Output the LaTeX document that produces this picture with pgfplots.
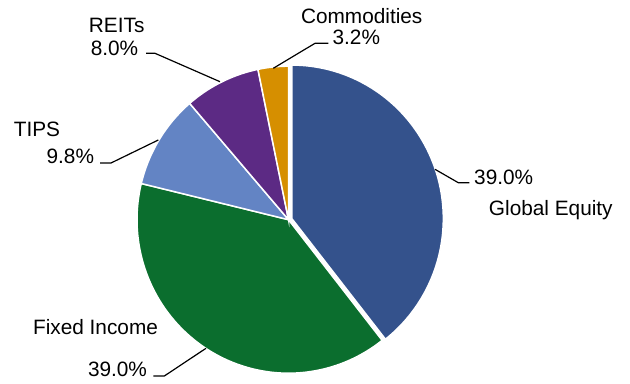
\documentclass[border=0pt]{standalone}
\usepackage{fontspec}
\setmainfont{Liberation Sans}
\usepackage{pgfplots}
\usepackage{pgfplotstable}
\pgfplotsset{compat=1.18}
\definecolor{cGE}{RGB}{52,82,140}
\definecolor{cFI}{RGB}{11,110,46}
\definecolor{cTI}{RGB}{99,132,196}
\definecolor{cRE}{RGB}{92,42,132}
\definecolor{cCO}{RGB}{214,143,0}
\pgfplotstableread{
name value
GlobalEquity 39.0
FixedIncome 39.0
TIPS 9.8
REITs 8.0
Commodities 3.2
}\alloc
\tikzset{lbl/.style={font=\fontsize{20.8bp}{24bp}\selectfont, inner sep=0pt, anchor=base}}
\begin{document}
\begin{tikzpicture}
\pgfplotstablegetelem{0}{value}\of\alloc \pgfmathsetmacro\vA{\pgfplotsretval}
\pgfplotstablegetelem{1}{value}\of\alloc \pgfmathsetmacro\vB{\pgfplotsretval}
\pgfplotstablegetelem{2}{value}\of\alloc \pgfmathsetmacro\vC{\pgfplotsretval}
\pgfplotstablegetelem{3}{value}\of\alloc \pgfmathsetmacro\vD{\pgfplotsretval}
\pgfplotstablegetelem{4}{value}\of\alloc \pgfmathsetmacro\vE{\pgfplotsretval}
\pgfmathsetmacro\tot{\vA+\vB+\vC+\vD+\vE}
\pgfmathsetmacro\aO{90}
\pgfmathsetmacro\aA{\aO-360*\vA/\tot}
\pgfmathsetmacro\aB{\aA-360*\vB/\tot}
\pgfmathsetmacro\aC{\aB-360*\vC/\tot}
\pgfmathsetmacro\aD{\aC-360*\vD/\tot}
\pgfmathsetmacro\aE{\aD-360*\vE/\tot}
\def\cx{288.5}\def\cy{219.7}\def\rx{151.5}\def\ry{153.5}
\pgfmathsetmacro\mA{(\aO+\aA)/2}
\pgfmathsetmacro\gx{\cx+3.5*cos(\mA)}
\pgfmathsetmacro\gy{\cy-3.5*sin(\mA)}
\begin{axis}[
  scale only axis, width=630bp, height=383bp,
  xmin=0, xmax=630, ymin=0, ymax=383, y dir=reverse,
  hide axis, clip=false,
]
\path (axis cs:0,0) rectangle (axis cs:630,383);
\addplot[fill=cGE, draw=white, line width=1.5bp, domain=\aA:\aO, samples=120, variable=\t]
  ({\gx+\rx*cos(\t)}, {\gy-\ry*sin(\t)}) -- (axis cs:\gx,\gy) -- cycle;
\addplot[fill=cFI, draw=white, line width=1.5bp, domain=\aB:\aA, samples=120, variable=\t]
  ({\cx+\rx*cos(\t)}, {\cy-\ry*sin(\t)}) -- (axis cs:\cx,\cy) -- cycle;
\addplot[fill=cTI, draw=white, line width=1.5bp, domain=\aC:\aB, samples=40, variable=\t]
  ({\cx+\rx*cos(\t)}, {\cy-\ry*sin(\t)}) -- (axis cs:\cx,\cy) -- cycle;
\addplot[fill=cRE, draw=white, line width=1.5bp, domain=\aD:\aC, samples=40, variable=\t]
  ({\cx+\rx*cos(\t)}, {\cy-\ry*sin(\t)}) -- (axis cs:\cx,\cy) -- cycle;
\addplot[fill=cCO, draw=white, line width=1.5bp, domain=\aE:\aD, samples=20, variable=\t]
  ({\cx+\rx*cos(\t)}, {\cy-\ry*sin(\t)}) -- (axis cs:\cx,\cy) -- cycle;
% leader lines
\draw[black, line width=1.2bp] (axis cs:328.3,43.3) -- (axis cs:315,43.3) -- (axis cs:273.3,68.3);
\draw[black, line width=1.2bp] (axis cs:146,53.3) -- (axis cs:155,53.3) -- (axis cs:220,81.7);
\draw[black, line width=1.2bp] (axis cs:100,163) -- (axis cs:111,163) -- (axis cs:158.3,140);
\draw[black, line width=1.2bp] (axis cs:435,169.3) -- (axis cs:458.3,182.7) -- (axis cs:469.3,182.7);
\draw[black, line width=1.2bp] (axis cs:153.3,376) -- (axis cs:164.3,376) -- (axis cs:206,348.3);
% labels
\node[lbl] at (axis cs:361.7,24) {Commodities};
\node[lbl] at (axis cs:356.3,44) {3.2\%};
\node[lbl] at (axis cs:116.7,32.3) {REITs};
\node[lbl] at (axis cs:114.5,55) {8.0\%};
\node[lbl] at (axis cs:37,136) {TIPS};
\node[lbl] at (axis cs:70.3,163.3) {9.8\%};
\node[lbl] at (axis cs:503.7,184.3) {39.0\%};
\node[lbl] at (axis cs:550.8,215) {Global Equity};
\node[lbl] at (axis cs:95.5,334) {Fixed Income};
\node[lbl] at (axis cs:117.5,376.7) {39.0\%};
\end{axis}
\end{tikzpicture}
\end{document}
